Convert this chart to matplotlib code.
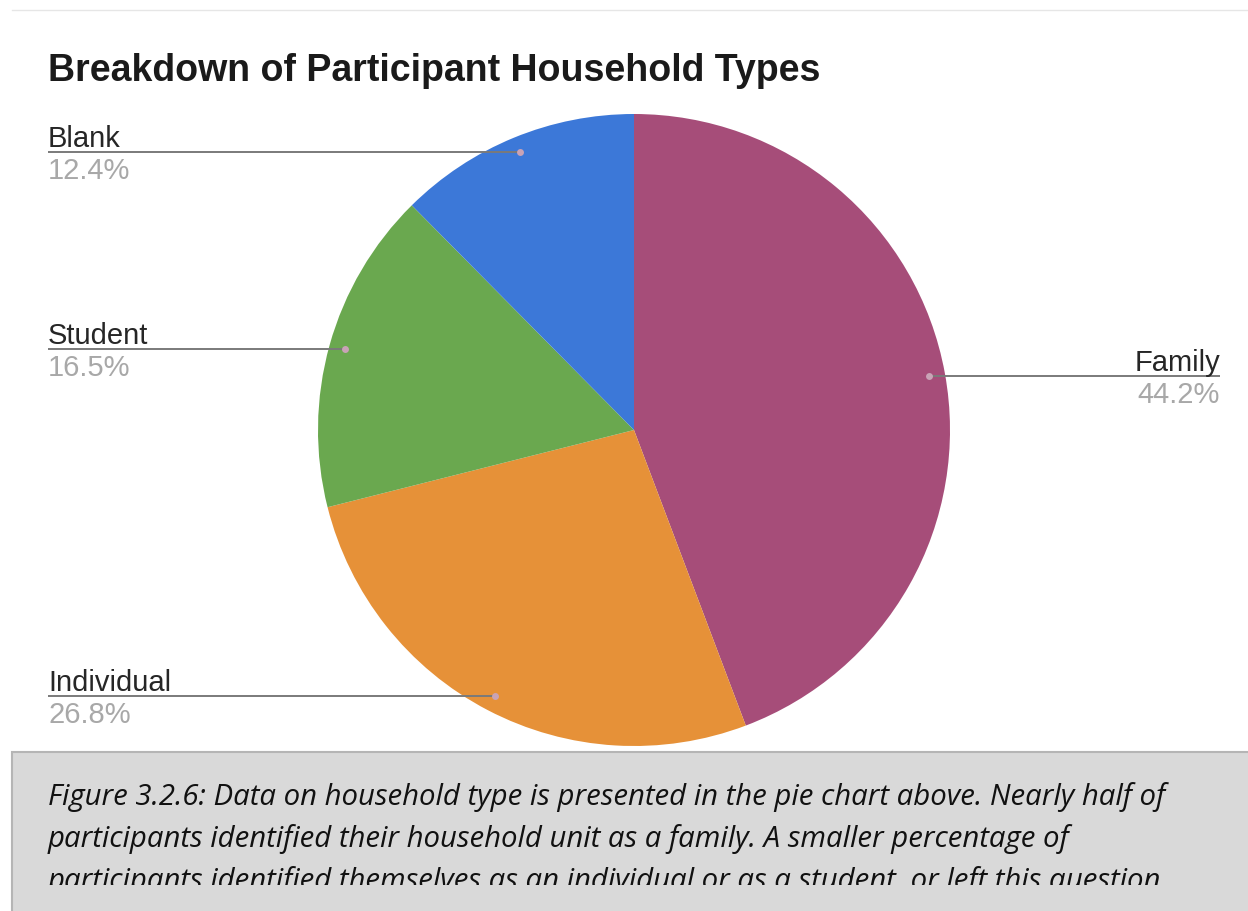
import numpy as np
import matplotlib
matplotlib.use("Agg")
import matplotlib.pyplot as plt
from matplotlib.patches import Rectangle
from matplotlib.transforms import Bbox, TransformedBbox

## PIE CHART: PARTICIPANT HOUSEHOLD TYPES
household = ["Family", "Individual", "Student", "Blank"]
shares = [44.2, 26.8, 16.5, 12.4]
pct_labels = ["44.2%", "26.8%", "16.5%", "12.4%"]
colours = ["#A64D79", "#E69138", "#6AA84F", "#3C78D8"]

title = "Breakdown of Participant Household Types"
caption = [
    "Figure 3.2.6: Data on household type is presented in the pie chart above. Nearly half of",
    "participants identified their household unit as a family. A smaller percentage of",
    "participants identified themselves as an individual or as a student, or left this question",
]

W, H = 1248, 911
fig = plt.figure(figsize=(W / 100, H / 100), dpi=100)
ax = fig.add_axes([0, 0, 1, 1])

def Y(y):
    # pixel rows counted from the top
    return H - y

cx, cy, r = 634, Y(430), 316
wedges, _ = ax.pie(shares, colors=colours, startangle=90, counterclock=False,
                   center=(cx, cy), radius=r, wedgeprops=dict(linewidth=0))

# leader lines + labels
left_x, right_x = 48, 1220
for w, name, pct in zip(wedges, household, pct_labels):
    mid = np.deg2rad((w.theta1 + w.theta2) / 2)
    px = cx + 0.95 * r * np.cos(mid)
    py = cy + 0.95 * r * np.sin(mid)
    if px > cx:
        lx, ha = right_x, "right"
    else:
        lx, ha = left_x, "left"
    ax.plot([px, lx], [py, py], color="#7a7a7a", lw=1.4, solid_capstyle="butt", zorder=3)
    ax.plot(px, py, "o", ms=5, color="#c9a3b6", mec="none", zorder=4)
    ax.text(lx, py + 5, name, ha=ha, va="baseline", fontsize=21,
            family="Liberation Sans", color="#262626")
    ax.text(lx, py - 5, pct, ha=ha, va="top", fontsize=21,
            family="Liberation Sans", color="#a8a8a8")

ax.text(48, Y(71), title, ha="left", va="center", fontsize=27, fontweight="bold",
        family="Liberation Sans", color="#1a1a1a")

# thin rule at the top
ax.plot([12, W], [Y(10), Y(10)], color="#e6e6e6", lw=1)

# caption box, last line cut off at the bottom edge
box = Rectangle((12, Y(H + 20)), W, H + 20 - 752, facecolor="#d9d9d9",
                edgecolor="#b5b5b5", lw=1.5, zorder=1)
ax.add_patch(box)
clip = TransformedBbox(Bbox([[12, Y(885)], [W, Y(752)]]), ax.transData)
for i, line in enumerate(caption):
    t = ax.text(48, Y(797 + 42 * i), line, ha="left", va="center", fontsize=21.2,
                family="Open Sans", style="italic", color="#111111", zorder=2)
    t.set_clip_on(True)
    t.set_clip_box(clip)

ax.set_xlim(0, W)
ax.set_ylim(0, H)
ax.set_aspect("equal")
ax.axis("off")
fig.savefig("out.png", dpi=100)
